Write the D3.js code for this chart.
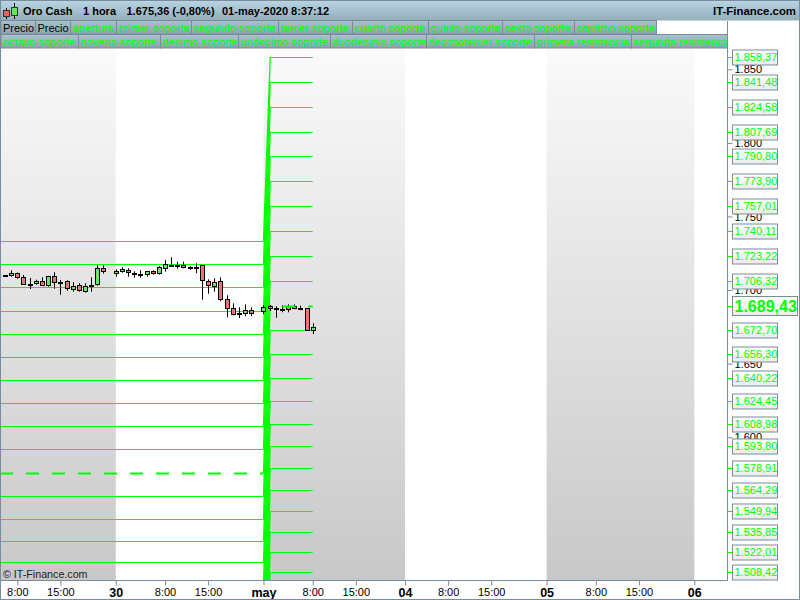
<!DOCTYPE html>
<html><head><meta charset="utf-8">
<script src="https://cdn.jsdelivr.net/npm/d3@7"></script>
<style>
html,body{margin:0;padding:0;background:#fff}
svg{display:block}
text{font-family:"Liberation Sans",Arial,sans-serif}
</style></head><body>
<svg id="c" width="800" height="600"></svg>
<script>
// ---------- data ----------
const legendRow1 = ["Precio","Precio","apertura","primer soporte","segundo soporte","tercer soporte","cuarto soporte","quinto soporte","sexto soporte","septimo soporte"];
const legendRow2 = ["octavo soporte","noveno soporte","decimo soporte","undecimo soporte","duodecimo soporte","decimotercer soporte","primera resistencia","segunda resistencia"];
const priceTicks = [1600,1650,1700,1750,1800,1850];
const newLevels = [1858.37,1841.48,1824.58,1807.69,1790.80,1773.90,1757.01,1740.11,1723.22,1706.32,1689.43,1672.70,1656.30,1640.22,1624.45,1608.98,1593.80,1578.91,1564.29,1549.94,1535.85,1522.01,1508.42];
const prevLevels = [1733.3,1717.7,1702.1,1685.8,1670.1,1654.5,1638.9,1623.3,1607.6,1592.0,1575.7,1560.0,1544.4,1529.5,1515.2,1501,1487,1473,1460,1447,1434,1421,1408];
const prevDashed = 1575.7;
const newDashed = 1689.43;
const timeTickIdx = [0,7,16,24,31,40,48,55,63,70,77,86,94,101,110];
const timeTickLbl = ["8:00","15:00","30","8:00","15:00","may","8:00","15:00","04","8:00","15:00","05","8:00","15:00","06"];
const greyBandStart = [-20,40,86];
const greyBandEnd = [16,63,110];
const idx   = [-2,-1,0,1,2,3,4,5,6,7,8,9,10,11,12,13,14,16,17,18,19,20,21,22,23,24,25,26,27,28,29,30,31,32,33,34,35,36,37,38,40,41,42,43,44,45,46,47,48];
const open  = [1710.1,1709.8,1711.4,1708.7,1704.3,1704.3,1705.95,1702.95,1709.35,1705.7,1705.95,1700.9,1703.25,1699.55,1703.65,1703.65,1714.8,1711.15,1712.75,1713.45,1711.8,1711.15,1710.45,1712.75,1711.15,1714.8,1717.05,1716.85,1716.85,1715.5,1715.9,1716.85,1705.95,1702.3,1705.95,1693.7,1687.6,1684.2,1684.2,1686.25,1685.3,1688.95,1687.6,1687.35,1688.95,1688.95,1688.0,1687.6,1672.4];
const high  = [1710.3,1713.4,1711.95,1710.25,1708.2,1707.05,1708.7,1709.35,1712.1,1706.85,1706.65,1705.3,1704.6,1704.6,1708.7,1716.85,1716.85,1714.1,1715.5,1714.8,1712.75,1713.45,1712.75,1713.45,1716.15,1720.45,1722.3,1719.3,1719.3,1716.15,1718.2,1716.85,1707.3,1708.0,1708.7,1696.45,1691.0,1688.3,1690.3,1688.3,1689.65,1689.85,1688.95,1689.65,1690.3,1690.3,1689.4,1687.6,1677.4];
const low   = [1709.7,1709.1,1707.7,1703.65,1700.7,1703.65,1702.95,1702.3,1700.9,1696.85,1699.55,1698.9,1698.9,1698.2,1698.9,1702.95,1711.15,1709.1,1711.8,1709.1,1708.4,1708.4,1709.1,1710.45,1710.45,1712.5,1716.35,1714.55,1714.8,1713.85,1711.4,1693.45,1697.55,1698.9,1692.35,1681.5,1682.85,1681.0,1682.2,1682.2,1683.75,1685.8,1681.2,1684.9,1684.9,1686.9,1686.25,1672.4,1670.1];
const close = [1710.0,1711.4,1708.4,1703.65,1704.3,1705.95,1702.95,1709.35,1705.0,1705.7,1701.2,1702.95,1699.55,1702.95,1703.65,1714.8,1712.5,1712.75,1714.1,1711.8,1711.8,1711.15,1712.75,1711.15,1715.5,1717.5,1717.05,1716.85,1715.5,1715.5,1715.9,1706.65,1703.25,1705.3,1693.7,1687.6,1683.5,1684.2,1686.25,1684.2,1688.3,1687.6,1687.6,1687.35,1686.9,1687.6,1688.0,1672.4,1674.65];

// ---------- layout ----------
const svg = d3.select("#c");
const L=1,R=727,T=49,B=580;
const x = d3.scaleLinear().domain([0,110]).range([17.3,694.3]);
const y = d3.scaleLinear().domain([1858.37,1508.42]).range([57,572]);
const axisC="#7b8c99";
const fmt = d3.formatLocale({decimal:",",thousands:".",grouping:[3],currency:["",""]});
const fP = fmt.format(",.2f"), fT = fmt.format(",d");
const GREEN="#00ff00";

const defs = svg.append("defs");
function grad(id,stops){const g=defs.append("linearGradient").attr("id",id).attr("x1",0).attr("x2",0).attr("y1",0).attr("y2",1);
  stops.forEach(s=>g.append("stop").attr("offset",s[0]).attr("stop-color",s[1]));}
grad("gHead",[[0,"#b9d6e5"],[1,"#93adb9"]]);
grad("gCell",[[0,"#a9c2cf"],[1,"#8ea3af"]]);
grad("gBand",[[0,"#fafafa"],[1,"#c8c8c8"]]);
grad("gBox",[[0,"#ffffff"],[1,"#ececec"]]);
defs.append("clipPath").attr("id","plot").append("rect").attr("x",L).attr("y",T).attr("width",R-L).attr("height",B-T);

svg.append("rect").attr("width",800).attr("height",600).attr("fill","#fff");
// grey day bands
const bands = svg.append("g").attr("clip-path","url(#plot)");
greyBandStart.forEach((s,k)=>{
  bands.append("rect").attr("x",x(s)).attr("y",T).attr("width",x(greyBandEnd[k])-x(s)).attr("height",B-T).attr("fill","url(#gBand)");
});

// header
svg.append("rect").attr("x",0).attr("y",0).attr("width",800).attr("height",20.5).attr("fill","url(#gHead)");
const hdr = [["Oro Cash",23],["1 hora",83],["1.675,36 (-0,80%)",126.5],["01-may-2020 8:37:12",222]];
svg.append("g").selectAll("text").data(hdr).join("text")
  .attr("x",d=>d[1]).attr("y",15).attr("font-size",11).attr("font-weight","bold").attr("fill","#000").text(d=>d[0]);
svg.append("text").attr("x",796).attr("y",15).attr("text-anchor","end").attr("font-size",11.4).attr("font-weight","bold").text("IT-Finance.com");
// header icon
const ic = svg.append("g");
ic.append("line").attr("x1",6.5).attr("x2",6.5).attr("y1",8).attr("y2",19).attr("stroke","#000");
ic.append("rect").attr("x",3.5).attr("y",10.5).attr("width",6).attr("height",6).attr("fill","#e86060").attr("stroke","#333");
ic.append("line").attr("x1",14.5).attr("x2",14.5).attr("y1",3).attr("y2",19).attr("stroke","#000");
ic.append("rect").attr("x",11.5).attr("y",7.5).attr("width",6).attr("height",8).attr("fill","#5fe85f").attr("stroke","#333");

// legend cells
const row1Edges=[1,35.5,70.5,116.5,191.5,278.5,352.5,428.5,502.5,574.5,656.5];
const row2Edges=[1,78.5,160.5,238.5,330.5,426.5,534.5,631.5,760];
defs.append("clipPath").attr("id","leg").append("rect").attr("x",0).attr("y",20).attr("width",727).attr("height",29);
const leg=svg.append("g").attr("clip-path","url(#leg)");
function row(labels,edges,y0){
  labels.forEach((t,i)=>{
    leg.append("rect").attr("x",edges[i]).attr("y",y0).attr("width",edges[i+1]-edges[i]).attr("height",13.5)
      .attr("fill","url(#gCell)").attr("stroke",axisC);
    leg.append("text").attr("x",edges[i]+2).attr("y",y0+11).attr("font-size",11)
      .attr("fill",t==="Precio"?"#000":GREEN).text(t);
  });
}
row(legendRow1,row1Edges,20.5);
row(legendRow2,row2Edges,34.5);

// levels
const plot=svg.append("g").attr("clip-path","url(#plot)");
const xSwitchA=x(40), xSwitchB=x(41.1), xEnd=x(48);
plot.selectAll("line.cn").data(newLevels).join("line").attr("class","cn")
  .attr("x1",xSwitchA).attr("x2",xSwitchB)
  .attr("y1",(d,i)=>y(prevLevels[i])).attr("y2",d=>y(d))
  .attr("stroke",GREEN).attr("stroke-width",1.3);
plot.selectAll("line.prev").data(prevLevels).join("line").attr("class","prev")
  .attr("x1",L).attr("x2",xSwitchA)
  .attr("y1",d=>Math.round(y(d))+.5).attr("y2",d=>Math.round(y(d))+.5)
  .attr("stroke",GREEN).attr("stroke-width",d=>d===prevDashed?2:1)
  .attr("stroke-dasharray",d=>d===prevDashed?"13 13":null)
  .attr("stroke-dashoffset",1);
plot.selectAll("line.nw").data(newLevels.filter(d=>d!==newDashed)).join("line").attr("class","nw")
  .attr("x1",xSwitchB).attr("x2",xEnd)
  .attr("y1",d=>Math.round(y(d))+.5).attr("y2",d=>Math.round(y(d))+.5)
  .attr("stroke",GREEN).attr("stroke-width",1);

// candles
const candles=idx.map((d,i)=>({i:d,o:open[i],h:high[i],l:low[i],c:close[i]}));
const g=plot.selectAll("g.k").data(candles).join("g").attr("class","k");
g.append("line").attr("x1",d=>Math.round(x(d.i))+.5).attr("x2",d=>Math.round(x(d.i))+.5)
  .attr("y1",d=>y(d.h)).attr("y2",d=>y(d.l)).attr("stroke","#000");
g.append("rect").attr("x",d=>Math.round(x(d.i))-1.5).attr("width",4)
  .attr("y",d=>Math.round(y(Math.max(d.o,d.c)))+.5)
  .attr("height",d=>Math.max(1,Math.round(y(Math.min(d.o,d.c))-y(Math.max(d.o,d.c)))))
  .attr("fill",d=>d.c>d.o?"#64e864":d.c<d.o?"#e87474":"#000").attr("stroke","#000");

// dashed opening level of the current day, on top of the candles
plot.append("line").attr("x1",xSwitchB).attr("x2",xEnd)
  .attr("y1",Math.round(y(newDashed))+.5).attr("y2",Math.round(y(newDashed))+.5)
  .attr("stroke",GREEN).attr("stroke-width",2).attr("stroke-dasharray","13 13").attr("stroke-dashoffset",14);

svg.append("text").attr("x",3).attr("y",578).attr("font-size",10.7).attr("fill","#222").text("© IT-Finance.com");

// frame of plot
svg.append("line").attr("x1",R+.5).attr("x2",R+.5).attr("y1",T-28).attr("y2",B+1).attr("stroke",axisC);
svg.append("line").attr("x1",0.5).attr("x2",.5).attr("y1",0).attr("y2",600).attr("stroke",axisC);

// right axis: round ticks
const axR=d3.axisRight(y).tickValues(priceTicks).tickSize(5).tickPadding(2).tickFormat(fT);
const gR=svg.append("g").attr("transform",`translate(${R+.5},0)`).call(axR);
gR.select(".domain").remove();
gR.selectAll("line").attr("stroke",axisC);
gR.selectAll("text").attr("font-size",11).attr("font-family","Liberation Sans").attr("fill","#000");

// level tags
const tags=svg.append("g").selectAll("g").data(newLevels).join("g")
  .attr("transform",d=>`translate(${R+.5},${Math.round(y(d))+.5})`);
tags.append("line").attr("x1",0).attr("x2",5).attr("stroke",GREEN);
tags.append("rect").attr("x",5).attr("y",d=>d===newDashed?-10:-7.5)
  .attr("width",d=>d===newDashed?65:45).attr("height",d=>d===newDashed?19:15)
  .attr("fill","url(#gBox)").attr("stroke",axisC);
tags.append("text").attr("x",7).attr("y",d=>d===newDashed?5:3.5)
  .attr("font-size",d=>d===newDashed?16:11).attr("font-weight",d=>d===newDashed?"bold":null)
  .attr("fill",GREEN).text(fP);

// bottom axis
const axB=d3.axisBottom(x).tickValues(timeTickIdx).tickSize(5).tickPadding(3).tickFormat((d,i)=>timeTickLbl[i]);
const gB=svg.append("g").attr("transform",`translate(0,${B+.5})`).call(axB);
gB.select(".domain").attr("d",`M0,0H${R}`).attr("stroke",axisC);
gB.selectAll("line").attr("stroke",axisC);
gB.selectAll("text").attr("font-family","Liberation Sans")
  .attr("font-size",(d,i)=>/^\d+:/.test(timeTickLbl[i])?11:12.5)
  .attr("font-weight",(d,i)=>/^\d+:/.test(timeTickLbl[i])?null:"bold").attr("fill","#000");

// outer frame
svg.append("rect").attr("x",.5).attr("y",.5).attr("width",799).attr("height",599).attr("fill","none").attr("stroke",axisC);
</script></body></html>
